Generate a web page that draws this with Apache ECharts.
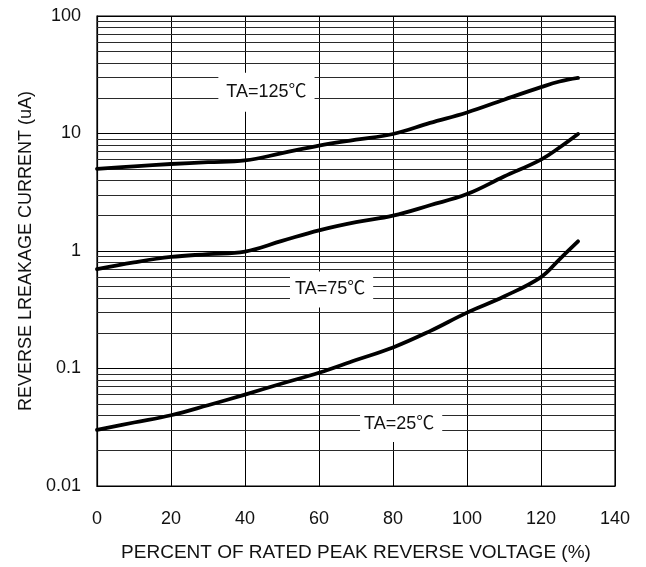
<!DOCTYPE html>
<html>
<head>
<meta charset="utf-8">
<script src="https://cdn.jsdelivr.net/npm/echarts@6/dist/echarts.min.js"></script>
<style>html,body{margin:0;padding:0;background:#fff}#c{width:646px;height:567px}</style>
</head>
<body>
<div id="c"></div>
<script>
var xValues = [0, 10, 20, 30, 40, 50, 60, 70, 80, 90, 100, 110, 120, 125, 130];
var ta125 = [5.0, 5.25, 5.5, 5.7, 5.9, 6.8, 7.9, 8.85, 9.9, 12.3, 15.1, 19.4, 24.8, 27.7, 29.7];
var ta75 = [0.70, 0.80, 0.89, 0.94, 0.99, 1.22, 1.50, 1.76, 2.0, 2.45, 3.05, 4.3, 6.0, 7.6, 9.9];
var ta25 = [0.030, 0.0347, 0.040, 0.0487, 0.060, 0.0745, 0.092, 0.118, 0.151, 0.208, 0.299, 0.41, 0.60, 0.85, 1.21];
var seriesNames = ['TA=125℃', 'TA=75℃', 'TA=25℃'];
var yTickLabels = ['0.01', '0.1', '1', '10', '100'];
var minorGridValues = [];
[0.01, 0.1, 1, 10].forEach(function (d) {
  for (var k = 2; k <= 9; k++) minorGridValues.push(+(d * k).toPrecision(3));
});
// annotation anchor points (data units) for the curve labels
var labelAnchors = [[45.8, 22.4], [63.4, 0.471], [82.2, 0.034]];
var labelPads = [[8, 8, 13, 8], [6, 8, 12, 5], [7, 8, 12, 4]];

var FONT = '"Liberation Sans", Arial, "Noto Sans CJK SC", sans-serif';
function pairs(vals) { return xValues.map(function (x, i) { return [x, vals[i]]; }); }

var curves = [ta125, ta75, ta25].map(function (vals, i) {
  return {
    type: 'line', name: seriesNames[i], data: pairs(vals), smooth: 0.4,
    showSymbol: false, symbol: 'none', silent: true, z: 5,
    lineStyle: { color: '#000', width: 3.8, cap: 'round', join: 'round' },
    markPoint: {
      symbol: 'rect', symbolSize: 1, itemStyle: { color: 'rgba(0,0,0,0)' }, silent: true,
      data: [{ coord: labelAnchors[i], value: seriesNames[i] }],
      label: {
        show: true, position: 'inside', formatter: seriesNames[i],
        color: '#111', fontSize: 18, fontFamily: FONT,
        backgroundColor: '#fff', padding: labelPads[i]
      }
    }
  };
});

var gridSeries = {
  type: 'line', data: [], silent: true, z: 1,
  markLine: {
    silent: true, symbol: ['none', 'none'], animation: false,
    label: { show: false },
    lineStyle: { color: '#2a2a2a', width: 1, type: 'solid' },
    data: minorGridValues.map(function (v) { return { yAxis: v }; })
  }
};

var chart = echarts.init(document.getElementById('c'), null, { renderer: 'canvas' });
chart.setOption({
  animation: false,
  backgroundColor: '#fff',
  grid: { left: 97, right: 31, top: 16, bottom: 80, show: true, borderColor: '#000', borderWidth: 1.2 },
  xAxis: {
    type: 'value', min: 0, max: 140, interval: 20,
    name: 'PERCENT OF RATED PEAK REVERSE VOLTAGE (%)', nameLocation: 'middle', nameGap: 57,
    nameTextStyle: { fontSize: 19, color: '#111', fontFamily: FONT },
    axisLine: { show: true, lineStyle: { color: '#000', width: 1.2 } },
    axisTick: { show: false },
    axisLabel: { margin: 24, fontSize: 18, color: '#111', fontFamily: FONT },
    splitLine: { show: true, lineStyle: { color: '#000', width: 1 } }
  },
  yAxis: {
    type: 'log', logBase: 10, min: 0.01, max: 100,
    name: 'REVERSE LREAKAGE CURRENT (uA)', nameLocation: 'middle', nameGap: 61,
    nameTextStyle: { fontSize: 18, color: '#111', fontFamily: FONT },
    axisLine: { show: true, lineStyle: { color: '#000', width: 1.2 } },
    axisTick: { show: false },
    axisLabel: {
      margin: 16, fontSize: 18, color: '#111', fontFamily: FONT,
      formatter: function (v) {
        var i = Math.round(Math.log10(v)) + 2;
        return yTickLabels[i] !== undefined ? yTickLabels[i] : '';
      }
    },
    splitLine: { show: true, lineStyle: { color: '#000', width: 1 } }
  },
  series: [gridSeries].concat(curves)
});
</script>
</body>
</html>
